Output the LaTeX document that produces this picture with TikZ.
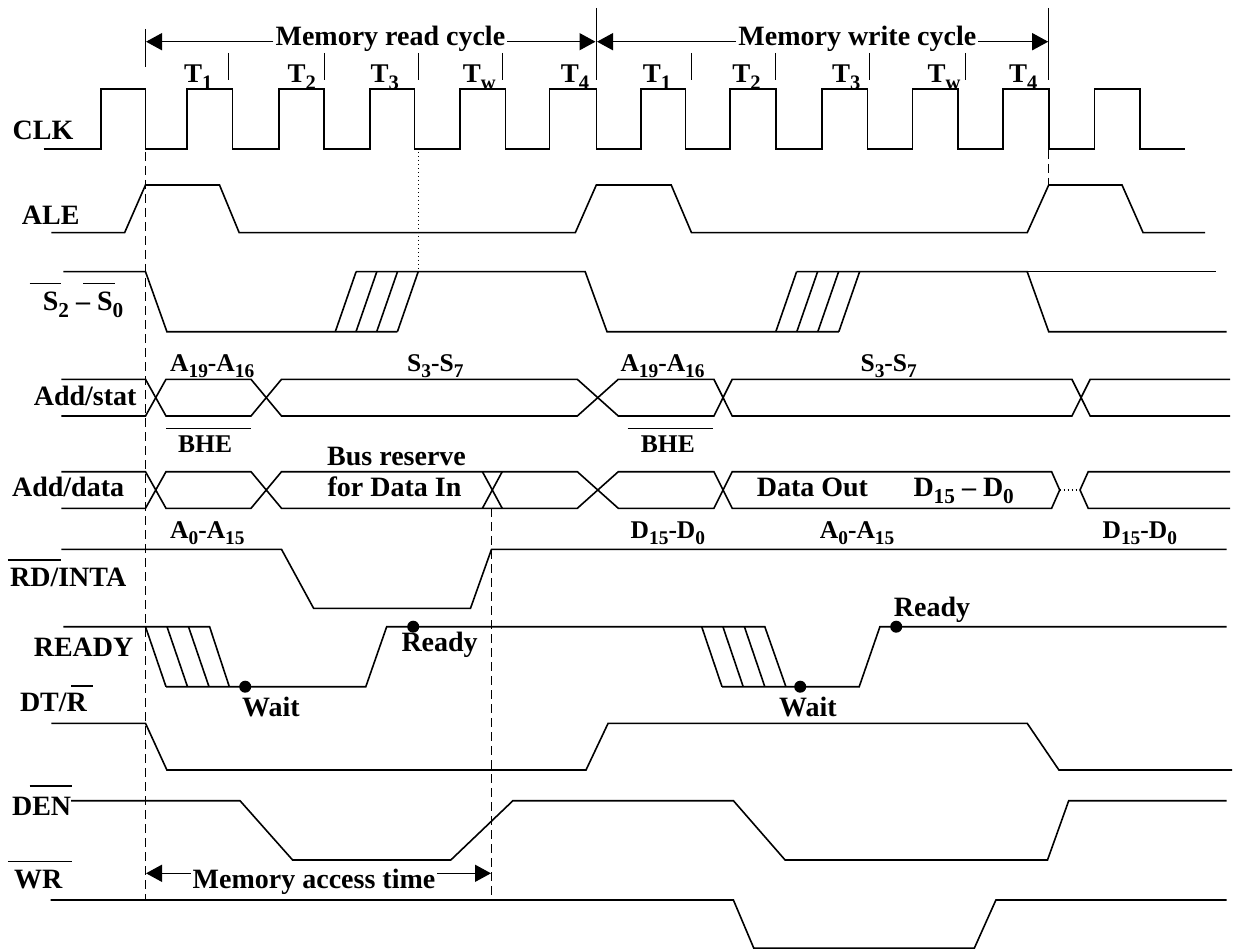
\documentclass[tikz,border=0pt]{standalone}
\usepackage{fontspec}
\setmainfont{Liberation Serif}
\usetikzlibrary{arrows.meta}
\newcommand\dsub[1]{\raisebox{-0.25em}{\scalebox{0.76}{#1}}}
\begin{document}
\begin{tikzpicture}[x=1pt,y=-1pt,
  sig/.style={line width=1.6pt, line join=miter},
  tick/.style={line width=1.1pt},
  lbl/.style={font=\fontsize{28}{30}\selectfont\bfseries, inner sep=0pt, anchor=base west},
  slbl/.style={font=\fontsize{25.5}{27}\selectfont\bfseries, inner sep=0pt, anchor=base west},
  tlbl/.style={font=\fontsize{27}{29}\selectfont\bfseries, inner sep=0pt, anchor=base west},
  arr/.style={line width=1.6pt, -{Triangle[length=16pt,width=17pt]}},
  dsh/.style={line width=1.1pt, dash pattern=on 9pt off 5pt},
  dtd/.style={line width=1.1pt, dash pattern=on 1.5pt off 2.5pt},
  dot/.style={circle, fill, inner sep=0pt, minimum size=12pt}]
\fill[white] (0,0) rectangle (1238,949);
\useasboundingbox (0,0) rectangle (1238,949);

% ---------- top: cycle arrows ----------
\draw[tick] (145.5,29) -- (145.5,67);
\draw[tick] (596.3,8) -- (596.3,80);
\draw[tick] (1048.7,8) -- (1048.7,80);
\coordinate (rcL) at (146,41.7);
\coordinate (rcR) at (595.5,41.7);
\node[lbl, anchor=base, inner xsep=2pt] (rc) at (390.4,45.5) {Memory read cycle};
\draw[arr] (rc.west |- rcL) -- (rcL);
\draw[arr] (rc.east |- rcR) -- (rcR);
\coordinate (wcL) at (597,41.7);
\coordinate (wcR) at (1048.2,41.7);
\node[lbl, anchor=base, inner xsep=2pt] (wc) at (857.3,45.5) {Memory write cycle};
\draw[arr] (wc.west |- wcL) -- (wcL);
\draw[arr] (wc.east |- wcR) -- (wcR);

% T labels and ticks
\node[tlbl] (rt1) at (183.9,82.5) {T\dsub{1}};
\node[tlbl] (rt2) at (287.5,82.5) {T\dsub{2}};
\node[tlbl] (rt3) at (370.5,82.5) {T\dsub{3}};
\node[tlbl] (rtw) at (462.6,82.5) {T\dsub{w}};
\node[tlbl] (rt4) at (560.7,82.5) {T\dsub{4}};
\node[tlbl] (wt1) at (642.7,82.5) {T\dsub{1}};
\node[tlbl] (wt2) at (732.2,82.5) {T\dsub{2}};
\node[tlbl] (wt3) at (831.9,82.5) {T\dsub{3}};
\node[tlbl] (wtw) at (927.5,82.5) {T\dsub{w}};
\node[tlbl] (wt4) at (1008.9,82.5) {T\dsub{4}};
\foreach \x in {228.5,324.2,418.3,502.2,691.5,775.8,869.3,965.3}
  \draw[tick] (\x,53) -- (\x,80);

% ---------- signal labels ----------
\node[lbl] (clk) at (12.5,140) {CLK};
\node[lbl] (ale) at (21.7,225) {ALE};
\node[lbl] (sts) at (42.7,310.7) {S\dsub{2} – S\dsub{0}};
\draw[tick] (29.7,283.3) -- (61.3,283.3);
\draw[tick] (83,283.3) -- (114.7,283.3);
\node[lbl] (adds) at (33.6,405) {Add/stat};
\node[lbl] (addd) at (11.9,496.7) {Add/data};
\node[lbl] (rd) at (9.9,586) {RD/INTA};
\draw[tick] (7.9,560) -- (61.3,560);
\node[lbl] (ready) at (33.6,656) {READY};
\node[lbl] (dtr) at (19.8,711) {DT/R};
\draw[tick] (71,686) -- (93,686);
\node[lbl] (den) at (11.9,815) {DEN};
\draw[tick] (29.7,786) -- (72.4,786);
\node[lbl] (wr) at (13.8,888.3) {WR};
\draw[tick] (7.9,861.7) -- (72.4,861.7);

% ---------- CLK ----------
\draw[sig] (43.5,149) foreach \r/\f in {100.8/145.5, 187/232.5, 278.8/324.2, 369.7/414.4, 459.9/505.3, 549.6/596.3, 640.7/685.4, 730.2/776.2, 821.7/867.3, 912.4/958, 1002.8/1048.7, 1094.3/1139.9} { -- (\r,149) -- (\r,89.3) -- (\f,89.3) -- (\f,149) } -- (1184.6,149);

% ---------- ALE ----------
\draw[sig] (51.4,232.7) -- (124.6,232.7) -- (145.5,185) -- (219.5,185) -- (239.2,232.7) -- (575.3,232.7) -- (596.3,185) -- (671.2,185) -- (691.5,232.7) -- (1027.2,232.7) -- (1048.7,185) -- (1122,185) -- (1143.1,232.7) -- (1205,232.7);

% ---------- S2-S0 ----------
\draw[sig] (63.3,271.7) -- (145.5,271.7) -- (166.9,331.7) -- (397.4,331.7);
\foreach \b in {335.3,356,376.7,397.4}
  \draw[sig] (\b,331.7) -- ++(20.8,-60);
\draw[sig] (356.1,271.7) -- (585.2,271.7) -- (607,331.7) -- (838.8,331.7);
\foreach \b in {775.8,796.8,817.8,838.8}
  \draw[sig] (\b,331.7) -- ++(20.8,-60);
\draw[sig] (796.6,271.7) -- (1027.2,271.7) -- (1048.7,331.7) -- (1226.5,331.7);
\draw[sig] (1027.2,271.7) -- (1216.4,271.7);

% ---------- Add/stat ----------
\draw[sig] (61.3,379.3) -- (145.5,379.3) -- (166,416) -- (251,416) -- (281.5,379.3) -- (577.3,379.3) -- (618.3,416) -- (713.9,416) -- (732.2,379.3) -- (1071.9,379.3) -- (1090.2,416) -- (1230,416);
\draw[sig] (61.3,416) -- (145.5,416) -- (166,379.3) -- (251,379.3) -- (281.5,416) -- (577.3,416) -- (618.3,379.3) -- (713.9,379.3) -- (732.2,416) -- (1071.9,416) -- (1090.2,379.3) -- (1230,379.3);
\node[slbl] (a1916r) at (170,371) {A\dsub{19}-A\dsub{16}};
\node[slbl] (s37r) at (407,371) {S\dsub{3}-S\dsub{7}};
\node[slbl] (a1916w) at (620.3,371) {A\dsub{19}-A\dsub{16}};
\node[slbl] (s37w) at (860.4,371) {S\dsub{3}-S\dsub{7}};
\node[slbl] (bher) at (178,452) {BHE};
\draw[tick] (166,428.3) -- (251,428.3);
\node[slbl] (bhew) at (640.7,452) {BHE};
\draw[tick] (627.7,428.3) -- (713,428.3);

% ---------- Add/data ----------
\draw[sig] (61.3,471.7) -- (145.5,471.7) -- (166,508.3) -- (251,508.3) -- (281.5,471.7) -- (577.3,471.7) -- (618.3,508.3) -- (713.9,508.3) -- (732.2,471.7) -- (1051.6,471.7) -- (1059.7,490) -- (1051.6,508.3) -- (732.2,508.3) -- (713.9,471.7) -- (618.3,471.7) -- (577.3,508.3) -- (281.5,508.3) -- (251,471.7) -- (166,471.7) -- (145.5,508.3) -- (61.3,508.3);
\draw[sig] (482.4,471.7) -- (502.2,508.3);
\draw[sig] (482.4,508.3) -- (502.2,471.7);
\draw[dtd] (1059.7,490) -- (1080,490);
\draw[sig] (1230,471.7) -- (1088.2,471.7) -- (1080,490) -- (1088.2,508.3) -- (1230,508.3);
\node[lbl] (bus1) at (327,465) {Bus reserve};
\node[lbl] (bus2) at (327.4,496.7) {for Data In};
\node[slbl] (a015r) at (170,538.3) {A\dsub{0}-A\dsub{15}};
\node[lbl] (dout) at (756.6,496.7) {Data Out};
\node[lbl] (d150a) at (913.3,496.7) {D\dsub{15} – D\dsub{0}};
\node[slbl] (d150b) at (630.5,538.3) {D\dsub{15}-D\dsub{0}};
\node[slbl] (a015w) at (819.7,538.3) {A\dsub{0}-A\dsub{15}};
\node[slbl] (d150c) at (1102.4,538.3) {D\dsub{15}-D\dsub{0}};

% ---------- RD/INTA ----------
\draw[sig] (61.3,549.3) -- (281.5,549.3) -- (313.6,608.3) -- (470.5,608.3) -- (491.5,549.3) -- (1226.5,549.3);

% ---------- READY ----------
\draw[sig] (63.3,626.7) -- (209.6,626.7) -- (229.3,686.7);
\draw[sig] (145.5,626.7) -- (166,686.7);
\draw[sig] (167,626.7) -- (187.5,686.7);
\draw[sig] (188.5,626.7) -- (209,686.7);
\draw[sig] (166,686.7) -- (365.8,686.7) -- (386.7,626.7) -- (764.8,626.7) -- (785.9,686.7);
\draw[sig] (701.7,626.7) -- (722,686.7);
\draw[sig] (722.9,626.7) -- (743.2,686.7);
\draw[sig] (744.4,626.7) -- (764.8,686.7);
\draw[sig] (722,686.7) -- (859.2,686.7) -- (879.9,626.7) -- (1226.5,626.7);
\node[dot] (wait1d) at (245.2,686.7) {};
\node[dot] (ready1d) at (413.2,626.7) {};
\node[dot] (wait2d) at (800.2,686.7) {};
\node[dot] (ready2d) at (896.2,626.7) {};
\node[lbl] (wait1) at (242,716.7) {Wait};
\node[lbl] (ready1) at (401.3,651.7) {Ready};
\node[lbl] (wait2) at (779,716.7) {Wait};
\node[lbl] (ready2) at (893.7,616.7) {Ready};

% ---------- DT/R ----------
\draw[sig] (51.4,723.3) -- (145.5,723.3) -- (166.9,770) -- (586,770) -- (608.1,723.3) -- (1027.2,723.3) -- (1058.9,770) -- (1232,770);

% ---------- DEN ----------
\draw[sig] (71.2,800.7) -- (240,800.7) -- (292.6,860) -- (450.8,860) -- (512.9,800.7) -- (733.4,800.7) -- (785.1,860) -- (1047.5,860) -- (1068.7,800.7) -- (1226.5,800.7);

% ---------- WR ----------
\draw[sig] (50.6,900) -- (733.4,900) -- (753.8,948.2) -- (974.3,948.2) -- (995.9,900) -- (1226.5,900);

% ---------- timing guides ----------
\draw[dsh] (145.5,152) -- (145.5,900);
\draw[dsh] (491.5,508.3) -- (491.5,900);
\draw[dsh] (1048.7,150) -- (1048.7,185);
\draw[dtd] (418.3,152) -- (418.3,271.7);

% memory access time
\coordinate (maL) at (146,873.3);
\coordinate (maR) at (491,873.3);
\node[lbl, anchor=base, inner xsep=2pt] (mat) at (314,888.3) {Memory access time};
\draw[arr] (mat.west |- maL) -- (maL);
\draw[arr] (mat.east |- maR) -- (maR);
\end{tikzpicture}
\end{document}
